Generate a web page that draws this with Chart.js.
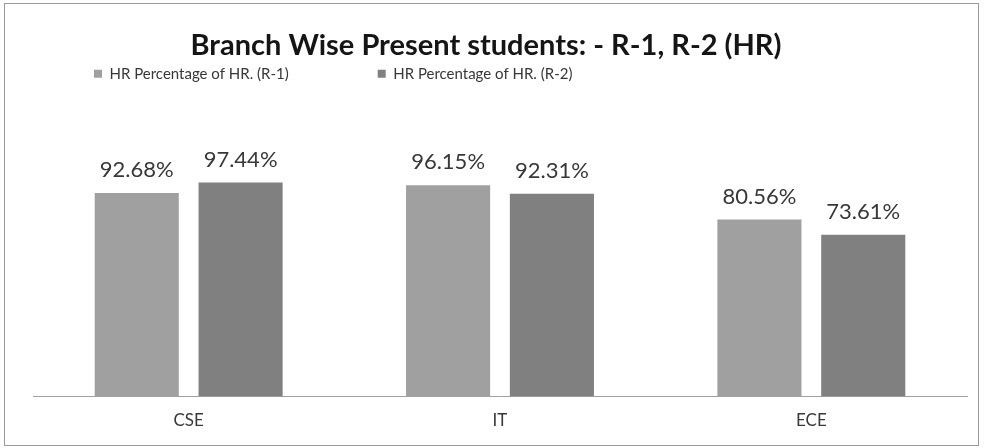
<!DOCTYPE html>
<html>
<head>
<meta charset="utf-8">
<script src="https://cdn.jsdelivr.net/npm/chart.js@4.4.0/dist/chart.umd.min.js"></script>
<style>
html, body { margin: 0; padding: 0; background: #fff; }
#box { position: absolute; left: 4px; top: 3px; width: 973px; height: 441px; border: 1px solid #9a9a9a; }
canvas { display: block; }
</style>
</head>
<body>
<div id="box"><canvas id="myChart" width="973" height="441"></canvas></div>
<script>
var branches = ['CSE', 'IT', 'ECE'];
var r1_values = [92.68, 96.15, 80.56];
var r2_values = [97.44, 92.31, 73.61];
var series_names = ['HR Percentage of HR. (R-1)', 'HR Percentage of HR. (R-2)'];

Chart.defaults.font.family = 'Lato';
Chart.defaults.color = '#383838';

// value labels above each bar
var barValueLabels = {
  id: 'barValueLabels',
  afterDatasetsDraw: function(chart) {
    var ctx = chart.ctx;
    ctx.save();
    ctx.font = '22px Lato';
    ctx.fillStyle = '#383838';
    ctx.textAlign = 'center';
    ctx.textBaseline = 'alphabetic';
    chart.data.datasets.forEach(function(ds, i) {
      chart.getDatasetMeta(i).data.forEach(function(bar, j) {
        ctx.fillText(ds.data[j].toFixed(2) + '%', bar.x, bar.y - 16);
      });
    });
    ctx.restore();
  }
};

var ctx = document.getElementById('myChart').getContext('2d');
var chart = new Chart(ctx, {
  type: 'bar',
  data: {
    labels: branches,
    datasets: [{
      label: series_names[0],
      backgroundColor: '#a0a0a0',
      data: r1_values
    }, {
      label: series_names[1],
      backgroundColor: '#808080',
      data: r2_values
    }]
  },
  options: {
    responsive: false,
    animation: false,
    categoryPercentage: 0.667,
    barPercentage: 0.81,
    layout: { padding: { left: 0, right: 11, top: 0, bottom: 0 } },
    plugins: {
      title: {
        display: true,
        text: 'Branch Wise Present students: - R-1, R-2 (HR)',
        color: '#151515',
        font: { size: 29, weight: 'bold' },
        padding: { top: 24, bottom: 0 }
      },
      legend: {
        position: 'top',
        align: 'start',
        title: { display: true, text: '', font: { size: 12 }, padding: { top: -100, bottom: 0 } },
        labels: {
          boxWidth: 8,
          boxHeight: 8,
          padding: 89,
          color: '#383838',
          font: { size: 15 }
        }
      },
      tooltip: { enabled: false }
    },
    scales: {
      x: {
        grid: { display: false, drawTicks: false },
        border: { display: true, color: '#a0a0a0', dash: [2, 2] },
        ticks: { padding: 14, color: '#383838', font: { size: 17 } }
      },
      y: {
        min: 0,
        max: 139,
        grid: { display: false, drawTicks: false },
        border: { display: false },
        ticks: { display: false },
        afterFit: function(scale) { scale.width = 28; }
      }
    }
  },
  plugins: [barValueLabels]
});
</script>
</body>
</html>
